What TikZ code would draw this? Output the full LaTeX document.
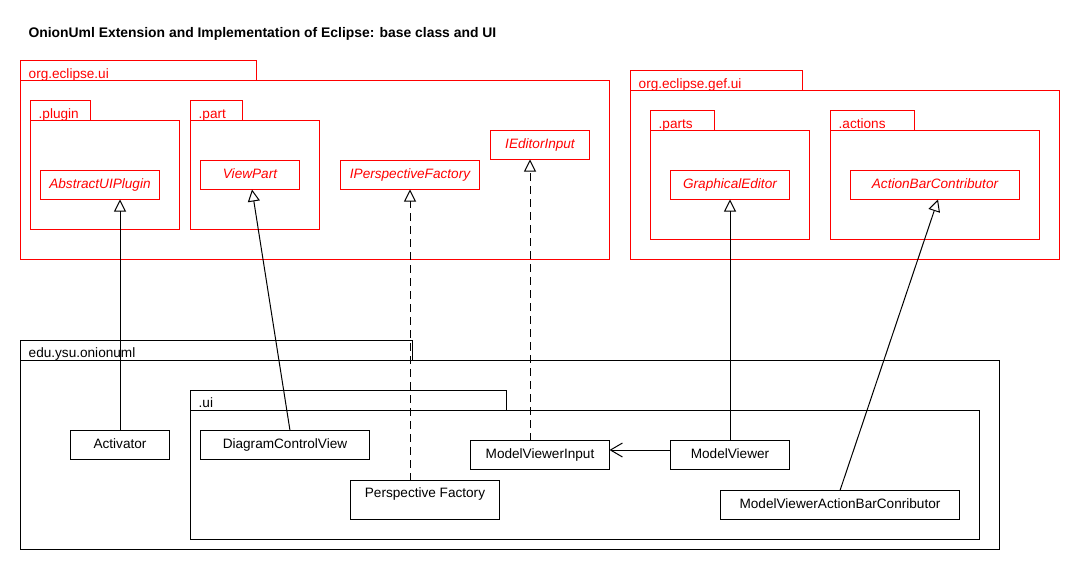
\documentclass[tikz,border=0pt]{standalone}
\usepackage{fontspec}
\setmainfont{Liberation Sans}
\usetikzlibrary{arrows.meta}
\definecolor{umlred}{RGB}{255,0,0}
\tikzset{
  lblfont/.style={font=\fontsize{13.6}{16}\selectfont},
  rcls/.style={draw=umlred, line width=1pt, fill=white, text=umlred, lblfont, font=\fontsize{13.6}{16}\selectfont\itshape,
    inner sep=0pt, outer sep=0pt, text height=9.5pt, text depth=3.5pt, anchor=north west},
  bcls/.style={draw=black, line width=1pt, fill=white, text=black, lblfont,
    inner sep=0pt, outer sep=0pt, text height=9.5pt, text depth=3.5pt, anchor=north west},
  rpkg/.style={draw=umlred, line width=1pt, inner sep=0pt, outer sep=0pt, anchor=north west},
  bpkg/.style={draw=black, line width=1pt, inner sep=0pt, outer sep=0pt, anchor=north west},
  rlab/.style={text=umlred, lblfont, anchor=base west, inner sep=0pt},
  blab/.style={text=black, lblfont, anchor=base west, inner sep=0pt},
  gen/.style={-{Triangle[open,length=12pt,width=12pt]}, line width=1pt},
  realz/.style={gen, dash pattern=on 8pt off 5pt},
  dep/.style={-{Straight Barb[length=12pt,width=14pt]}, line width=1pt}
}
\begin{document}
\begin{tikzpicture}[x=1pt,y=-1pt]
\useasboundingbox (0,0) rectangle (1080,570);
\fill[white] (0,0) rectangle (1080,570);

\node[anchor=base west, inner sep=0pt, font=\fontsize{13.9}{16}\selectfont\bfseries] (title) at (28.3,37.7)
  {OnionUml Extension and Implementation of Eclipse: base class and UI};

% org.eclipse.ui
\node[rpkg, minimum width=236, minimum height=20] (ecluitab) at (20.5,60.5) {};
\node[rpkg, minimum width=589, minimum height=179] (eclui) at (20.5,80.5) {};
\node[rlab] (ecluilab) at (28.5,78) {org.eclipse.ui};
\node[rpkg, minimum width=60, minimum height=20] (plugintab) at (30.5,100.5) {};
\node[rpkg, minimum width=149, minimum height=109] (plugin) at (30.5,120.5) {};
\node[rlab] (pluginlab) at (38.5,118) {.plugin};
\node[rpkg, minimum width=52, minimum height=20] (parttab) at (190.5,100.5) {};
\node[rpkg, minimum width=129, minimum height=109] (part) at (190.5,120.5) {};
\node[rlab] (partlab) at (198.5,118) {.part};

% org.eclipse.gef.ui
\node[rpkg, minimum width=172, minimum height=20] (gefuitab) at (630.5,70.5) {};
\node[rpkg, minimum width=429, minimum height=169] (gefui) at (630.5,90.5) {};
\node[rlab] (gefuilab) at (638.5,88) {org.eclipse.gef.ui};
\node[rpkg, minimum width=64, minimum height=20] (partstab) at (650.5,110.5) {};
\node[rpkg, minimum width=159, minimum height=109] (parts) at (650.5,130.5) {};
\node[rlab] (partslab) at (658.5,128) {.parts};
\node[rpkg, minimum width=84, minimum height=20] (actionstab) at (830.5,110.5) {};
\node[rpkg, minimum width=209, minimum height=109] (actions) at (830.5,130.5) {};
\node[rlab] (actionslab) at (838.5,128) {.actions};

% edu.ysu.onionuml
\node[bpkg, minimum width=392, minimum height=20] (oniontab) at (20.5,340.5) {};
\node[bpkg, minimum width=979, minimum height=189] (onion) at (20.5,360.5) {};
\node[blab] (onionlab) at (28.5,357.5) {edu.ysu.onionuml};
\node[bpkg, minimum width=316, minimum height=20] (uitab) at (190.5,390.5) {};
\node[bpkg, minimum width=789, minimum height=129] (ui) at (190.5,410.5) {};
\node[blab] (uilab) at (198.5,407.5) {.ui};

% classes
\node[rcls, minimum width=119, minimum height=29] (aui) at (40.5,170.5) {AbstractUIPlugin};
\node[rcls, minimum width=99, minimum height=29] (vp) at (200.5,160.5) {ViewPart};
\node[rcls, minimum width=139, minimum height=29] (ipf) at (340.5,160.5) {IPerspectiveFactory};
\node[rcls, minimum width=99, minimum height=29] (iei) at (490.5,130.5) {IEditorInput};
\node[rcls, minimum width=119, minimum height=29] (ge) at (670.5,170.5) {GraphicalEditor};
\node[rcls, minimum width=169, minimum height=29] (abc) at (850.5,170.5) {ActionBarContributor};

\node[bcls, minimum width=99, minimum height=29] (act) at (70.5,430.5) {Activator};
\node[bcls, minimum width=169, minimum height=29] (dcv) at (200.5,430.5) {DiagramControlView};
\node[bcls, minimum width=149, minimum height=39] (pf) at (350.5,480.5) {};
\node[blab, anchor=base] (pflab) at ([yshift=-17.3pt]pf.north) {Perspective Factory};
\node[bcls, minimum width=139, minimum height=29] (mvi) at (470.5,440.5) {ModelViewerInput};
\node[bcls, minimum width=119, minimum height=29] (mv) at (670.5,440.5) {ModelViewer};
\node[bcls, minimum width=239, minimum height=29] (mvabc) at (720.5,490.5) {ModelViewerActionBarConributor};

% connectors
\draw[gen] (act.north) -- (act.north |- aui.south);
\draw[gen] ([xshift=5pt]dcv.north) -- ([xshift=2pt]vp.south);
\draw[realz] (ipf.south |- pf.north) -- (ipf.south);
\draw[realz] ([xshift=-10pt]mvi.north) -- ([xshift=-10pt]iei.south);
\draw[gen] (mv.north) -- (ge.south);
\draw[gen] (mvabc.north) -- ([xshift=3pt]abc.south);
\draw[dep] ([yshift=5pt]mv.west) -- ([yshift=5pt]mvi.east);
\end{tikzpicture}
\end{document}
